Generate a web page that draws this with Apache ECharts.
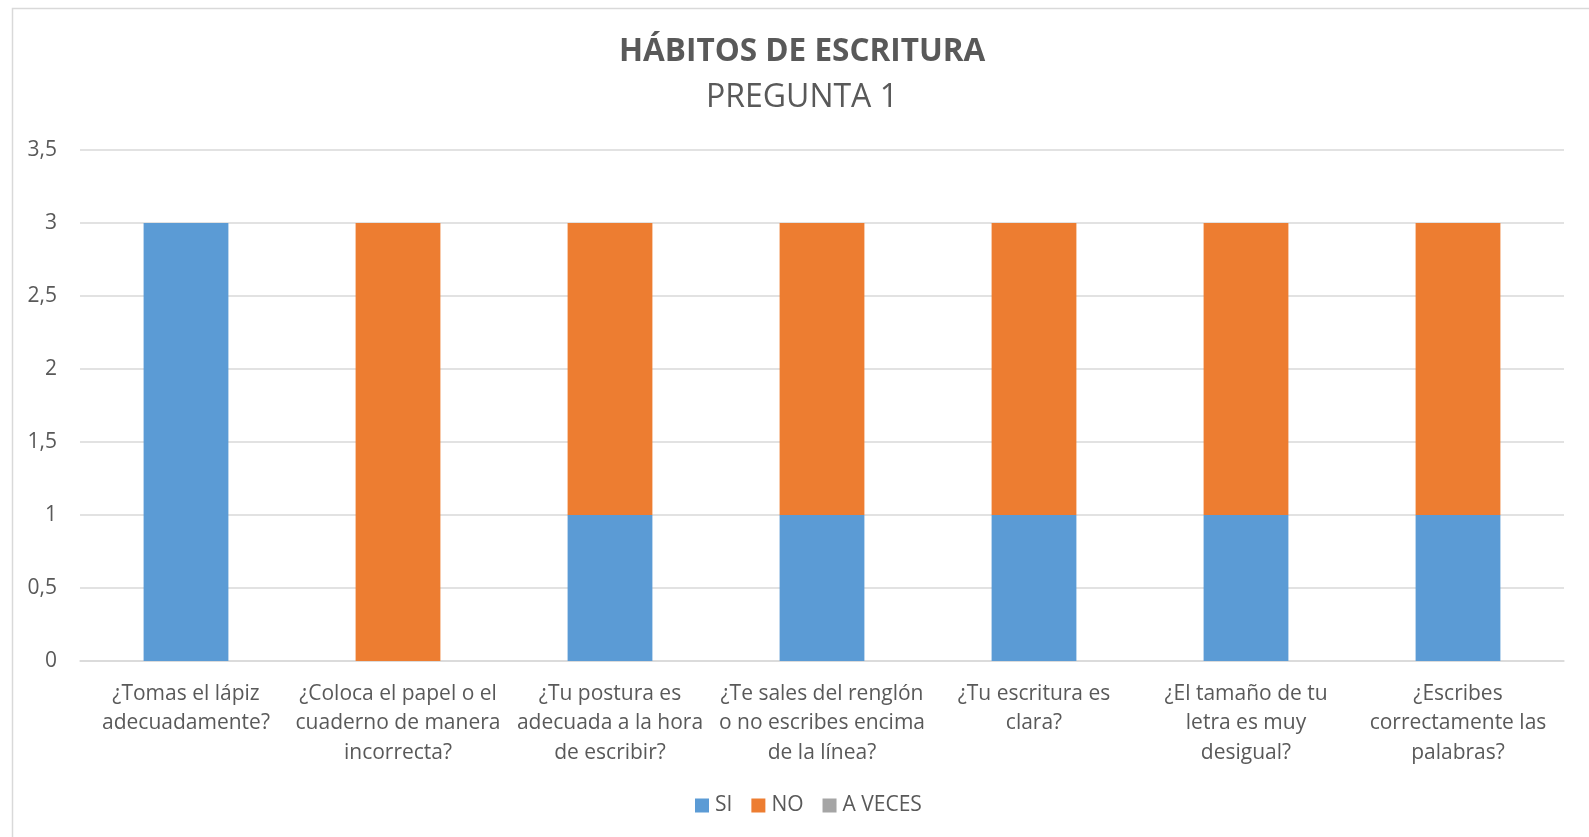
<!DOCTYPE html>
<html>
<head>
<meta charset="utf-8">
<script src="https://cdn.jsdelivr.net/npm/echarts@6/dist/echarts.min.js"></script>
<style>html,body{margin:0;padding:0;background:#fff}#c{width:1589px;height:837px}</style>
</head>
<body>
<div id="c"></div>
<script>
const titleText = 'HÁBITOS DE ESCRITURA';
const subtitleText = 'PREGUNTA 1';
const categories = [
  '¿Tomas el lápiz\nadecuadamente?',
  '¿Coloca el papel o el\ncuaderno de manera\nincorrecta?',
  '¿Tu postura es\nadecuada a la hora\nde escribir?',
  '¿Te sales del renglón\no no escribes encima\nde la línea?',
  '¿Tu escritura es\nclara?',
  '¿El tamaño de tu\nletra es muy\ndesigual?',
  '¿Escribes\ncorrectamente las\npalabras?'
];
const seriesNames = ['SI', 'NO', 'A VECES'];
const siValues = [3, 0, 1, 1, 1, 1, 1];
const noValues = [0, 3, 2, 2, 2, 2, 2];
const aVecesValues = [0, 0, 0, 0, 0, 0, 0];
const colors = ['#5B9BD5', '#ED7D31', '#A5A5A5'];

const FONT = '"Open Sans", Lato, sans-serif';
const chart = echarts.init(document.getElementById('c'), null, {renderer: 'canvas'});
chart.setOption({
  animation: false,
  color: colors,
  textStyle: {fontFamily: FONT, color: '#595959'},
  graphic: [{
    type: 'rect', left: 10, top: 6,
    shape: {x: 0, y: 0, width: 1620, height: 860},
    style: {fill: 'none', stroke: '#D9D9D9', lineWidth: 1.5},
    silent: true, z: -10
  }],
  title: [{
    text: titleText, left: 614, top: 31,
    textStyle: {fontFamily: FONT, fontSize: 31.5, fontWeight: 'bold', color: '#595959'}
  }, {
    text: subtitleText, left: 701, top: 77,
    textStyle: {fontFamily: FONT, fontSize: 32, fontWeight: 'normal', color: '#595959'}
  }],
  legend: {
    bottom: 16, left: 690,
    itemWidth: 14, itemHeight: 14, itemGap: 19,
    icon: 'rect',
    textStyle: {fontFamily: FONT, fontSize: 21, color: '#595959', padding: [0, 0, 0, 1]},
    data: seriesNames
  },
  grid: {left: 80, right: 25, top: 150, bottom: 176, containLabel: false},
  xAxis: {
    type: 'category', data: categories,
    axisLine: {lineStyle: {color: '#D9D9D9', width: 1.5}},
    axisTick: {show: false},
    axisLabel: {fontFamily: FONT, fontSize: 21, color: '#595959', lineHeight: 29.5, margin: 18, interval: 0}
  },
  yAxis: {
    type: 'value', min: 0, max: 3.5, interval: 0.5,
    axisLine: {show: false}, axisTick: {show: false},
    splitLine: {lineStyle: {color: '#D9D9D9', width: 1.5}},
    axisLabel: {fontFamily: FONT, fontSize: 21, color: '#595959', margin: 23,
      formatter: v => String(v).replace('.', ',')}
  },
  series: [
    {name: seriesNames[0], type: 'bar', stack: 'a', barWidth: '40%', data: siValues},
    {name: seriesNames[1], type: 'bar', stack: 'a', barWidth: '40%', data: noValues},
    {name: seriesNames[2], type: 'bar', stack: 'a', barWidth: '40%', data: aVecesValues}
  ]
});
</script>
</body>
</html>
